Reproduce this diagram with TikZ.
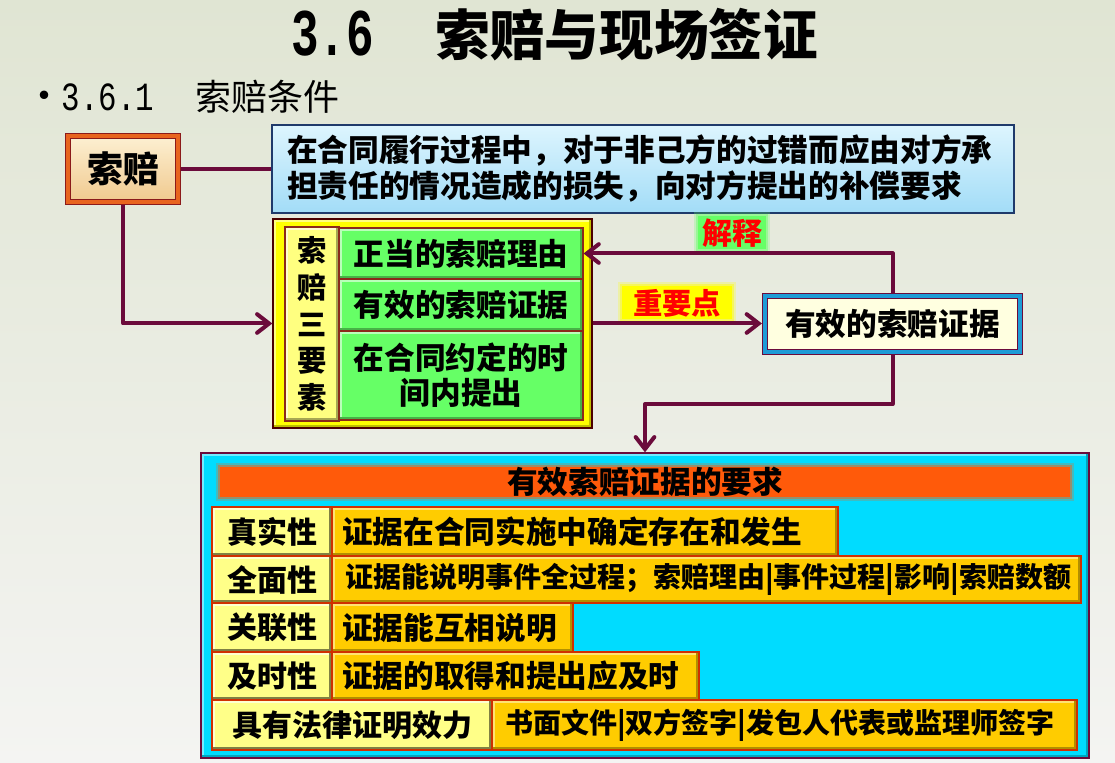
\documentclass[tikz,border=0pt]{standalone}
\usepackage{fontspec}
\setmainfont{Noto Sans CJK SC}
\newfontfamily\monofnt{Liberation Mono}
\usetikzlibrary{arrows.meta}
\newdimen\px \px=0.75pt
\newcommand\fsz[2]{\fontsize{#1pt}{#2pt}\selectfont}
\definecolor{maroon}{HTML}{6B0B3B}
\definecolor{bgtop}{HTML}{E0E5D3}
\definecolor{bgbot}{HTML}{F4F4F2}
\definecolor{defA}{HTML}{DDF5FE}
\definecolor{defB}{HTML}{A2DCF7}
\definecolor{defbd}{HTML}{1F3A6B}
\definecolor{spA}{HTML}{FDF0D2}
\definecolor{spB}{HTML}{F0C98E}
\definecolor{spbd}{HTML}{8B1A1A}
\definecolor{sporange}{HTML}{E8641E}
\definecolor{ybox}{HTML}{FFFF00}
\definecolor{ycol}{HTML}{FFFF80}
\definecolor{gbox}{HTML}{66FF66}
\definecolor{redbd}{HTML}{8B2A1A}
\definecolor{rblue}{HTML}{1E9BD7}
\definecolor{cream}{HTML}{FFFFE0}
\definecolor{cyanbox}{HTML}{00DCFF}
\definecolor{hdr}{HTML}{FF5A0A}
\definecolor{lblY}{HTML}{FFFF88}
\definecolor{gold}{HTML}{FFCC00}
\definecolor{goldbd}{HTML}{D03000}
\definecolor{glowG}{HTML}{66FF66}
\begin{document}
\begin{tikzpicture}[x=0.75pt,y=-0.75pt,
  bevel/.style 2 args={path picture={
    \fill[#2] (path picture bounding box.north west) rectangle ([yshift=-2.2pt]path picture bounding box.north east);
    \fill[#2] (path picture bounding box.north west) rectangle ([xshift=2.2pt]path picture bounding box.south west);
    \fill[#1] (path picture bounding box.south west) rectangle ([yshift=2.2pt]path picture bounding box.south east);
    \fill[#1] ([xshift=-2.2pt]path picture bounding box.north east) rectangle (path picture bounding box.south east);}},
  conn/.style={draw=maroon, line width=3pt, line join=round},
  tip/.style={-{Straight Barb[length=9pt,width=14pt,line cap=round]}},
  glow/.style={fill=#1, preaction={draw=#1, draw opacity=0.25, line width=6pt},
               preaction={draw=#1, draw opacity=0.45, line width=3pt}},
  lbl/.style={fill=lblY, draw=goldbd, line width=0.8pt, bevel={black!50!lblY}{white!60!lblY}, inner sep=0pt, align=center, font=\fsz{22.5}{26}\bfseries},
  cnt/.style={fill=gold, draw=goldbd, line width=0.8pt, bevel={black!30!gold}{white!45!gold}, inner sep=0pt, align=left, font=\fsz{23}{26}\bfseries},
  gbx/.style={fill=gbox, draw=redbd, line width=0.8pt, bevel={black!30!gbox}{white!55!gbox}, inner sep=0pt, align=center, font=\fsz{23}{26}\bfseries}
]
\useasboundingbox (0,0) rectangle (1115,763);
\shade[top color=bgtop, bottom color=bgbot] (0,0) rectangle (1115,763);

% title
\node[anchor=west, inner sep=0pt] (title) at (291,35)
  {\scalebox{0.69}[1]{\fsz{50}{50}\monofnt\bfseries 3.6}\hspace{46pt}\fsz{41}{41}\bfseries 索赔与现场签证};
\node[anchor=west, inner sep=0pt] (sub) at (24,97)
  {\makebox[28pt][l]{\fsz{30}{30}•}\scalebox{0.77}[1]{\fsz{30}{30}\monofnt 3.6.1}\hspace{31pt}\fsz{27}{27}索赔条件};

% claim box
\node[top color=spA, bottom color=spB, draw=spbd, double=sporange, double distance=3pt, line width=0.8pt,
      outer sep=2.3pt, minimum width=110\px, minimum height=66\px, inner sep=0pt, font=\fsz{27}{27}\bfseries]
  (suopei) at (123,169) {索赔};

% definition box
\node[top color=defA, bottom color=defB, draw=defbd, line width=1.2pt, minimum width=742\px, minimum height=88\px,
      inner xsep=0pt, inner ysep=0pt, text width=712\px, align=left, font=\fsz{23}{27}\bfseries]
  (def) at (643,169) {在合同履行过程中，对于非己方的过错而应由对方承\\担责任的情况造成的损失，向对方提出的补偿要求};

% three elements
\node[fill=ybox, draw=black!70!red, line width=1pt, bevel={black!25!ybox}{white!50!ybox}, minimum width=319\px, minimum height=209\px, inner sep=0pt]
  (three) at (432.5,323.5) {};
\node[fill=ycol, draw=redbd, line width=0.8pt, bevel={black!35!ycol}{white!60!ycol}, minimum width=54\px, minimum height=194\px,
      inner sep=0pt, align=center, font=\fsz{22}{27.5}\bfseries]
  (col) at (312,324) {索\\赔\\三\\要\\素};
\node[gbx, minimum width=244\px, minimum height=51\px] (g1) at (461,253.5) {正当的索赔理由};
\node[gbx, minimum width=244\px, minimum height=52\px] (g2) at (461,305) {有效的索赔证据};
\node[gbx, minimum width=244\px, minimum height=89\px, font=\fsz{23}{26}\bfseries] (g3) at (461,375.5) {在合同约定的时\\间内提出};

% right box
\node[fill=cream, draw=maroon, double=rblue, double distance=3pt, line width=0.8pt, outer sep=2.3pt,
      bevel={black!20!cream}{white}, minimum width=255\px, minimum height=56\px, inner sep=0pt, font=\fsz{23}{26}\bfseries]
  (rbox) at (892.5,324) {有效的索赔证据};

% labels on arrows
\node[glow=glowG, text=red, minimum width=68\px, minimum height=33\px, inner sep=0pt, font=\fsz{22.5}{24}\bfseries]
  (jieshi) at (732,233) {解释};
\node[glow=ybox, text=red, minimum width=110\px, minimum height=33\px, inner sep=0pt, font=\fsz{22}{24}\bfseries]
  (zhongyao) at (677,303) {重要点};

% big requirements box
\node[fill=cyanbox, draw=maroon, line width=1pt, bevel={black!25!cyanbox}{white!45!cyanbox}, minimum width=888\px, minimum height=305\px, inner sep=0pt]
  (big) at (645,605.5) {};
\node[glow=hdr, minimum width=850\px, minimum height=30\px, inner sep=0pt, font=\fsz{23}{26}\bfseries]
  (hdrbar) at (645,481.5) {有效索赔证据的要求};

\node[lbl, minimum width=120\px, minimum height=49\px] (l1) at (272,531.5) {真实性};
\node[cnt, minimum width=506\px, minimum height=49\px, text width=486\px] (c1) at (585,531.5) {证据在合同实施中确定存在和发生};
\node[lbl, minimum width=120\px, minimum height=47\px] (l2) at (272,579.5) {全面性};
\node[cnt, minimum width=749\px, minimum height=47\px, text width=723\px, font=\fsz{21}{24}\bfseries] (c2) at (706.5,579.5) {证据能说明事件全过程；索赔理由|事件过程|影响|索赔数额};
\node[lbl, minimum width=120\px, minimum height=49\px] (l3) at (272,627.5) {关联性};
\node[cnt, minimum width=241\px, minimum height=49\px, text width=221\px] (c3) at (452.5,627.5) {证据能互相说明};
\node[lbl, minimum width=120\px, minimum height=48\px] (l4) at (272,676) {及时性};
\node[cnt, minimum width=367\px, minimum height=48\px, text width=347\px] (c4) at (515.5,676) {证据的取得和提出应及时};
\node[lbl, minimum width=280\px, minimum height=50\px] (l5) at (352,725) {具有法律证明效力};
\node[cnt, minimum width=585\px, minimum height=50\px, text width=559\px, font=\fsz{21}{24}\bfseries] (c5) at (784.5,725) {书面文件|双方签字|发包人代表或监理师签字};

% connectors
\draw[conn] (suopei.east) -- (def.west);
\draw[conn,tip] (suopei.south) |- (three.west);
\draw[conn,tip] (rbox.north) |- (g1.east);
\draw[conn,tip] (three.east) -- (three.east -| rbox.west);
\draw[conn,tip] (rbox.south) -- ++(0,49) -| (big.north);
\end{tikzpicture}
\end{document}
